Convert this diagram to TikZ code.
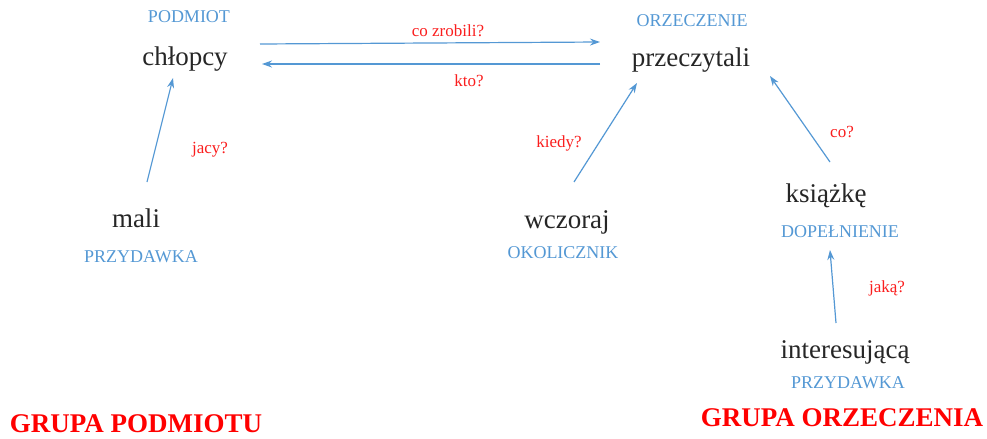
\documentclass[tikz,border=0pt]{standalone}
\usepackage{fontspec}
\setmainfont{LiberationSerif}[Extension=.ttf, UprightFont=*-Regular, BoldFont=*-Bold, ItalicFont=*-Italic, BoldItalicFont=*-BoldItalic]
\usepackage{tikz}
\usetikzlibrary{arrows.meta}

\definecolor{partblue}{RGB}{84,152,212}
\definecolor{askred}{RGB}{250,30,30}

\begin{document}
\begin{tikzpicture}[x=0.5pt, y=-0.5pt,
        every node/.style={anchor=base, inner sep=0pt},
        word/.style={font=\rmfamily\fontsize{13.5}{16}\selectfont, text=black!85},
        part/.style={font=\rmfamily\fontsize{9}{11}\selectfont, text=partblue},
        ask/.style={font=\rmfamily\fontsize{8.5}{10}\selectfont, text=askred},
        group/.style={font=\rmfamily\fontsize{13.5}{16}\selectfont\bfseries, text=red},
        link/.style={draw=partblue, line width=0.6pt, -{Stealth[length=5pt, width=3.5pt]}}]
    \useasboundingbox (0,0) rectangle (987,439);

    \node[part] (podmiot) at (189, 23) {PODMIOT};
    \node[word] (chlopcy) at (185, 65) {chłopcy};
    \node[part] (orzeczenie) at (692, 26) {ORZECZENIE};
    \node[word] (przeczytali) at (691, 67) {przeczytali};

    \node[word] (mali) at (136, 227) {mali};
    \node[part] (przydawka1) at (141, 262) {PRZYDAWKA};
    \node[word] (wczoraj) at (567, 228) {wczoraj};
    \node[part] (okolicznik) at (563, 258) {OKOLICZNIK};
    \node[word] (ksiazke) at (826, 202) {książkę};
    \node[part] (dopelnienie) at (840, 237) {DOPEŁNIENIE};
    \node[word] (interesujaca) at (845, 358) {interesującą};
    \node[part] (przydawka2) at (848, 388) {PRZYDAWKA};

    \node[ask] (cozrobili) at (448, 37) {co zrobili?};
    \node[ask] (kto) at (469, 86) {kto?};
    \node[ask] (jacy) at (210, 153) {jacy?};
    \node[ask] (kiedy) at (559, 147) {kiedy?};
    \node[ask] (co) at (842, 137) {co?};
    \node[ask] (jaka) at (887, 292) {jaką?};

    \node[group] (gpodmiotu) at (136, 432) {GRUPA PODMIOTU};
    \node[group] (gorzeczenia) at (842, 426) {GRUPA ORZECZENIA};

    \coordinate (c1) at (260, 44);
    \coordinate (c2) at (600, 42);
    \coordinate (c3) at (600, 64);
    \coordinate (c4) at (262, 64);
    \coordinate (m1) at (147, 182);
    \coordinate (m2) at (173, 78);
    \coordinate (w1) at (574, 182);
    \coordinate (w2) at (637, 83);
    \coordinate (k1) at (830, 162);
    \coordinate (k2) at (770, 76);
    \coordinate (i1) at (836, 323);
    \coordinate (i2) at (830, 250);

    \draw[link] (c1) -- (c2);
    \draw[link] (c3) -- (c4);
    \draw[link] (m1) -- (m2);
    \draw[link] (w1) -- (w2);
    \draw[link] (k1) -- (k2);
    \draw[link] (i1) -- (i2);
\end{tikzpicture}
\end{document}
